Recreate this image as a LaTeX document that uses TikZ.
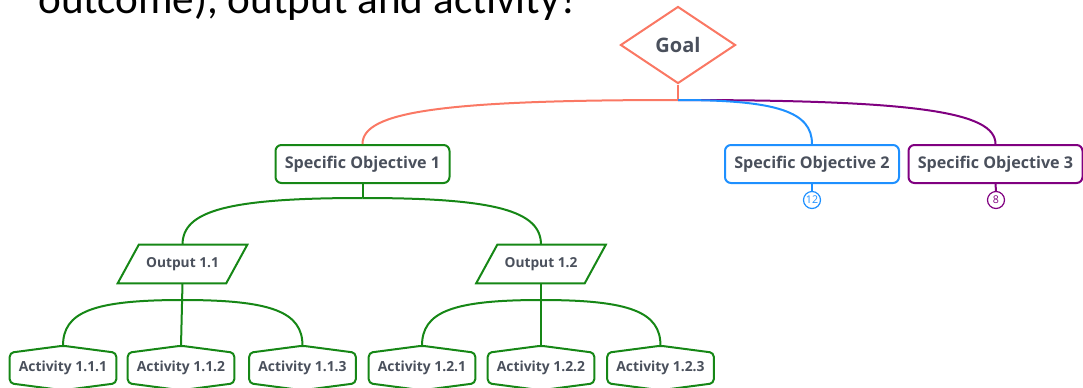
\documentclass[tikz,border=0pt]{standalone}
\usepackage{fontspec}
\setmainfont{Open Sans}
\newfontfamily\slidefont{Carlito}
\usetikzlibrary{shapes.geometric}

\definecolor{coral}{RGB}{250,120,100}
\definecolor{grn}{RGB}{22,135,22}
\definecolor{skyblue}{RGB}{30,144,255}
\definecolor{plum}{RGB}{128,0,128}
\definecolor{ink}{RGB}{74,80,92}

% activity boxes: flat hexagon with a shallow peak on top and bottom
\newcommand\hexbox[1]{%
  \draw[grn, line width=1.5pt, rounded corners=3pt]
    (#1.north) -- ([yshift=-5.25pt]#1.north east) -- ([yshift=5.25pt]#1.south east)
    -- (#1.south) -- ([yshift=5.25pt]#1.south west) -- ([yshift=-5.25pt]#1.north west) -- cycle;}
% output boxes: parallelogram leaning to the right
\newcommand\parabox[1]{%
  \draw[grn, line width=1.5pt]
    ([xshift=7.9pt]#1.north west) -- ([xshift=7.9pt]#1.north east)
    -- ([xshift=-7.9pt]#1.south east) -- ([xshift=-7.9pt]#1.south west) -- cycle;}

\begin{document}
\begin{tikzpicture}[x=0.75pt, y=-0.75pt,
  conn/.style={line width=1.5pt},
  objbox/.style={draw, line width=1.5pt, rounded corners=4.5pt, minimum width=174*0.75pt,
    minimum height=38*0.75pt, inner sep=0pt, text=ink,
    font=\bfseries\fontsize{12.1}{15}\selectfont},
  outbox/.style={minimum width=108*0.75pt, minimum height=38*0.75pt, inner sep=0pt, text=ink,
    font=\bfseries\fontsize{10.3}{13}\selectfont},
  actbox/.style={minimum width=106*0.75pt, minimum height=44*0.75pt, inner sep=0pt, text=ink,
    font=\bfseries\fontsize{10.4}{13}\selectfont},
  badge/.style={circle, draw, line width=0.9pt, minimum size=17*0.75pt, inner sep=0pt,
    font=\fontsize{8}{9}\selectfont}]
\useasboundingbox (0,0) rectangle (1083,387);
\clip (0,0) rectangle (1083,387);

% heading line of the slide, running off the top edge
\node[anchor=base west, inner sep=0pt, font=\slidefont\fontsize{32.4}{40}\selectfont] (title)
  at (38,13) {outcome), output and activity?};

% goal
\node[diamond, draw=coral, line width=1.5pt, aspect=1.49, minimum width=115*0.75pt,
  minimum height=77*0.75pt, inner sep=0pt, text=ink,
  font=\bfseries\fontsize{15}{18}\selectfont] (goal) at (678,45) {Goal};

% specific objectives
\node[objbox, draw=grn] (so1) at (362.5,164) {Specific Objective 1};
\node[objbox, draw=skyblue] (so2) at (812,164) {Specific Objective 2};
\node[objbox, draw=plum] (so3) at (995.5,164) {Specific Objective 3};

\node[badge, draw=skyblue, text=skyblue] (c2) at (812,200) {12};
\node[badge, draw=plum, text=plum] (c3) at (996,200) {8};

% outputs
\node[outbox] (o11) at (182.5,264) {Output 1.1};
\node[outbox] (o12) at (541,264) {Output 1.2};
\parabox{o11}
\parabox{o12}

% activities
\node[actbox] (a111) at (63,368) {Activity 1.1.1};
\node[actbox] (a112) at (181,368) {Activity 1.1.2};
\node[actbox] (a113) at (302.5,368) {Activity 1.1.3};
\node[actbox] (a121) at (422,368) {Activity 1.2.1};
\node[actbox] (a122) at (541,368) {Activity 1.2.2};
\node[actbox] (a123) at (660.5,368) {Activity 1.2.3};
\foreach \n in {a111,a112,a113,a121,a122,a123} {\hexbox{\n}}

% branching points
\coordinate (g0) at (678,100);
\coordinate (s0) at (362.5,198);
\coordinate (p1) at (182.5,300);
\coordinate (p2) at (541,300);

% goal to objectives
\draw[conn, coral] (goal.south) -- (g0);
\draw[conn, coral] (g0) .. controls (440,100) and (362.5,112) .. (so1.north);
\draw[conn, plum] (g0) .. controls (917,100) and (995.5,112) .. (so3.north);
\draw[conn, skyblue] (g0) .. controls (778,100) and (812,112) .. (so2.north);
\draw[conn, skyblue] (so2.south) -- (c2.north);
\draw[conn, plum] (so3.south) -- (c3.north);

% objective 1 to outputs
\draw[conn, grn] (so1.south) -- (s0);
\draw[conn, grn] (s0) .. controls (227,198) and (182.5,211) .. (o11.north);
\draw[conn, grn] (s0) .. controls (496,198) and (541,211) .. (o12.north);

% outputs to activities
\draw[conn, grn] (o11.south) -- (a112.north);
\draw[conn, grn] (p1) .. controls (93,300) and (63,312) .. (a111.north);
\draw[conn, grn] (p1) .. controls (272,300) and (302.5,312) .. (a113.north);
\draw[conn, grn] (o12.south) -- (a122.north);
\draw[conn, grn] (p2) .. controls (452,300) and (422,312) .. (a121.north);
\draw[conn, grn] (p2) .. controls (630,300) and (660.5,312) .. (a123.north);
\end{tikzpicture}
\end{document}
